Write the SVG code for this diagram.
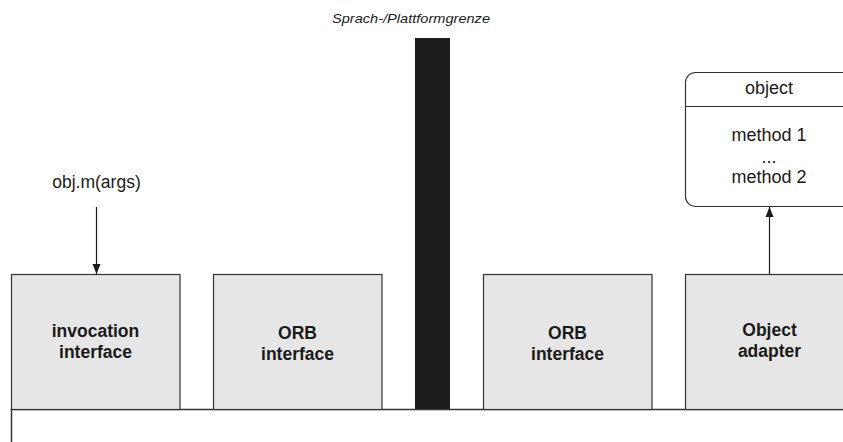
<svg xmlns="http://www.w3.org/2000/svg" width="843" height="442" viewBox="0 0 843 442">
  <style>
    .box { fill: #e6e6e6; stroke: #333333; stroke-width: 1.2; }
    .lbl { font-family: "Liberation Sans", Arial, sans-serif; font-size: 17.5px; font-weight: bold; fill: #1a1a1a; text-anchor: middle; }
    .txt { font-family: "Liberation Sans", Arial, sans-serif; font-size: 18px; fill: #1a1a1a; text-anchor: middle; }
    .ttl { font-family: "Liberation Sans", Arial, sans-serif; font-size: 13.5px; font-style: italic; fill: #1a1a1a; text-anchor: middle; }
    .edge { stroke: #1a1a1a; stroke-width: 1.2; fill: none; }
    .bus { stroke: #333333; stroke-width: 1.5; fill: none; }
  </style>
  <defs>
    <marker id="arrow" viewBox="0 0 10 10" refX="10" refY="5" markerWidth="10" markerHeight="10" markerUnits="userSpaceOnUse" orient="auto">
      <path d="M0,1 L10,5 L0,9 Z" fill="#1a1a1a"/>
    </marker>
  </defs>

  <rect width="843" height="442" fill="#ffffff"/>

  <!-- language / platform boundary -->
  <g id="boundary">
    <text class="ttl" x="411" y="23" textLength="158" lengthAdjust="spacingAndGlyphs">Sprach-/Plattformgrenze</text>
    <rect x="415" y="38" width="35" height="371" fill="#1c1c1c"/>
  </g>

  <!-- common ORB bus -->
  <g id="bus">
    <path class="bus" d="M11.5,442 V409.5 H843"/>
  </g>

  <g id="invocation-interface">
    <rect class="box" x="11.5" y="274.5" width="168.5" height="135"/>
    <text class="lbl" x="95.5" y="337">invocation</text>
    <text class="lbl" x="95.5" y="358">interface</text>
  </g>

  <g id="orb-interface-client">
    <rect class="box" x="213.5" y="274.5" width="168.5" height="135"/>
    <text class="lbl" x="297.5" y="339">ORB</text>
    <text class="lbl" x="297.5" y="360">interface</text>
  </g>

  <g id="orb-interface-server">
    <rect class="box" x="483.5" y="274.5" width="168.5" height="135"/>
    <text class="lbl" x="567.5" y="339">ORB</text>
    <text class="lbl" x="567.5" y="360">interface</text>
  </g>

  <g id="object-adapter">
    <rect class="box" x="685.5" y="274.5" width="168.5" height="135"/>
    <text class="lbl" x="769.5" y="336">Object</text>
    <text class="lbl" x="769.5" y="357">adapter</text>
  </g>

  <g id="object">
    <rect x="685.5" y="72.5" width="180" height="134" rx="10" ry="10" fill="#ffffff" stroke="#333333" stroke-width="1.2"/>
    <line x1="685.5" y1="106.5" x2="843" y2="106.5" stroke="#333333" stroke-width="1.2"/>
    <text class="txt" x="769" y="94">object</text>
    <text class="txt" x="769" y="141">method 1</text>
    <text class="txt" x="769" y="163">...</text>
    <text class="txt" x="769" y="183">method 2</text>
  </g>

  <g id="call">
    <text class="txt" x="96.5" y="188" style="font-size:17.5px">obj.m(args)</text>
  </g>

  <g id="connectors">
    <line class="edge" x1="96.5" y1="207" x2="96.5" y2="274" marker-end="url(#arrow)"/>
    <line class="edge" x1="769.5" y1="274" x2="769.5" y2="207" marker-end="url(#arrow)"/>
  </g>
</svg>
